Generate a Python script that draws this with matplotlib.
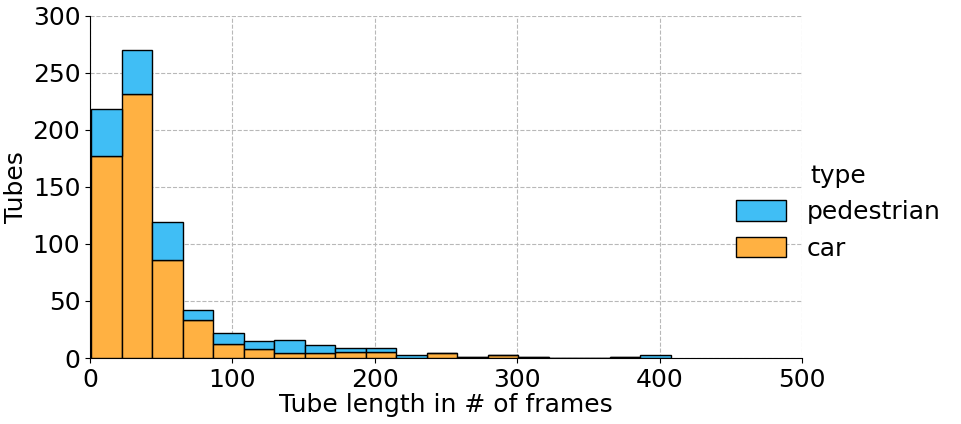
import numpy as np
import matplotlib
matplotlib.use("Agg")
import matplotlib.pyplot as plt
from matplotlib.patches import Patch

# Histogram bins (Tube length in # of frames)
bin_start = 1.0
bin_end = 408.0
n_bins = 19
car_counts = [177, 232, 86, 33, 12, 8, 4, 4, 5, 5, 0, 4, 1, 3, 1, 0, 0, 1, 0]
ped_counts = [41, 38, 33, 9, 10, 7, 12, 7, 4, 4, 3, 0, 0, 0, 0, 0, 0, 0, 3]
series = ["pedestrian", "car"]
colors = {"pedestrian": "#40BEF5", "car": "#FFB142"}
x_ticks = [0, 100, 200, 300, 400, 500]
y_ticks = [0, 50, 100, 150, 200, 250, 300]

edges = np.linspace(bin_start, bin_end, n_bins + 1)
width = np.diff(edges)
car = np.array(car_counts)
ped = np.array(ped_counts)

fig = plt.figure(figsize=(9.62, 4.24), dpi=100)
ax = fig.add_axes([90/962, 1 - 358/424, (802-90)/962, (358-16)/424])

ax.bar(edges[:-1], car, width=width, align="edge", color=colors["car"],
       edgecolor="black", linewidth=1.0, zorder=3)
ax.bar(edges[:-1], ped, width=width, bottom=car, align="edge",
       color=colors["pedestrian"], edgecolor="black", linewidth=1.0, zorder=3)

ax.set_xlim(0, 500)
ax.set_ylim(0, 300)
ax.set_xticks(x_ticks)
ax.set_yticks(y_ticks)
ax.tick_params(labelsize=18)
ax.grid(True, linestyle="--", color="#b8b8b8", linewidth=0.8, zorder=0)
ax.set_axisbelow(True)
for s in ["top", "right"]:
    ax.spines[s].set_visible(False)
ax.set_xlabel("Tube length in # of frames", fontsize=18, labelpad=1)
ax.set_ylabel("Tubes", fontsize=18, labelpad=3)

handles = [Patch(facecolor=colors[s], edgecolor="black", label=s) for s in series]
leg = fig.legend(handles=handles, title="type", loc="center left",
                 bbox_to_anchor=(0.742, 0.5), frameon=False, fontsize=18,
                 title_fontsize=18, handlelength=2.0, handleheight=0.9)

fig.savefig("out.png", dpi=100)
